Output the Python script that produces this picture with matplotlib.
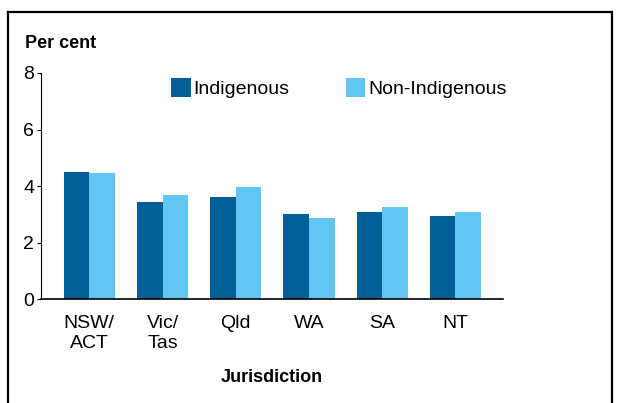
import matplotlib
matplotlib.use("Agg")
import matplotlib.pyplot as plt
import numpy as np
from matplotlib.lines import Line2D

plt.rcParams['font.family'] = ['Liberation Sans', 'DejaVu Sans']

# data
jurisdictions = ["NSW/\nACT", "Vic/\nTas", "Qld", "WA", "SA", "NT"]
indigenous = [4.50, 3.44, 3.61, 3.02, 3.08, 2.93]
non_indigenous = [4.46, 3.69, 3.98, 2.87, 3.28, 3.07]
yticks = [0, 2, 4, 6, 8]

dark = "#005F96"
light = "#62C6F2"

fig = plt.figure(figsize=(6.21, 4.03), dpi=100)
ax = fig.add_axes([0.066, 0.2573, 0.744, 0.5616])

x = np.arange(len(jurisdictions))
w = 0.35
ax.bar(x - w / 2, indigenous, w, color=dark, label="Indigenous")
ax.bar(x + w / 2, non_indigenous, w, color=light, label="Non-Indigenous")

ax.set_xlim(-0.66, 5.65)
ax.set_ylim(0, 8)
ax.set_yticks(yticks)
ax.set_xticks(x)
ax.set_xticklabels(jurisdictions, fontsize=14, linespacing=1.3)
ax.tick_params(axis='y', labelsize=14, length=3, width=0.8, pad=2)
ax.tick_params(axis='x', length=0, pad=11)
for s in ["top", "right"]:
    ax.spines[s].set_visible(False)
ax.spines["left"].set_linewidth(0.8)
ax.spines["bottom"].set_linewidth(1.2)

ax.set_xlabel("Jurisdiction", fontsize=13, fontweight="bold", labelpad=12)
fig.text(25 / 621, 1 - 44 / 403, "Per cent", fontsize=13, fontweight="bold",
         va="center", ha="left")

ax.legend(loc="upper left", bbox_to_anchor=(0.265, 1.01), ncol=2, frameon=False,
          fontsize=14, handlelength=1.0, handleheight=1.1, handletextpad=0.15,
          columnspacing=2.9, borderaxespad=0)

# outer frame
fig.add_artist(Line2D([8 / 621, 8 / 621], [0, 1 - 12 / 403], transform=fig.transFigure,
                      color="black", lw=1.6))
fig.add_artist(Line2D([8 / 621, 612 / 621], [1 - 12 / 403, 1 - 12 / 403],
                      transform=fig.transFigure, color="black", lw=1.6))
fig.add_artist(Line2D([612 / 621, 612 / 621], [0, 1 - 12 / 403], transform=fig.transFigure,
                      color="black", lw=1.6))

fig.savefig("out.png", dpi=100)
